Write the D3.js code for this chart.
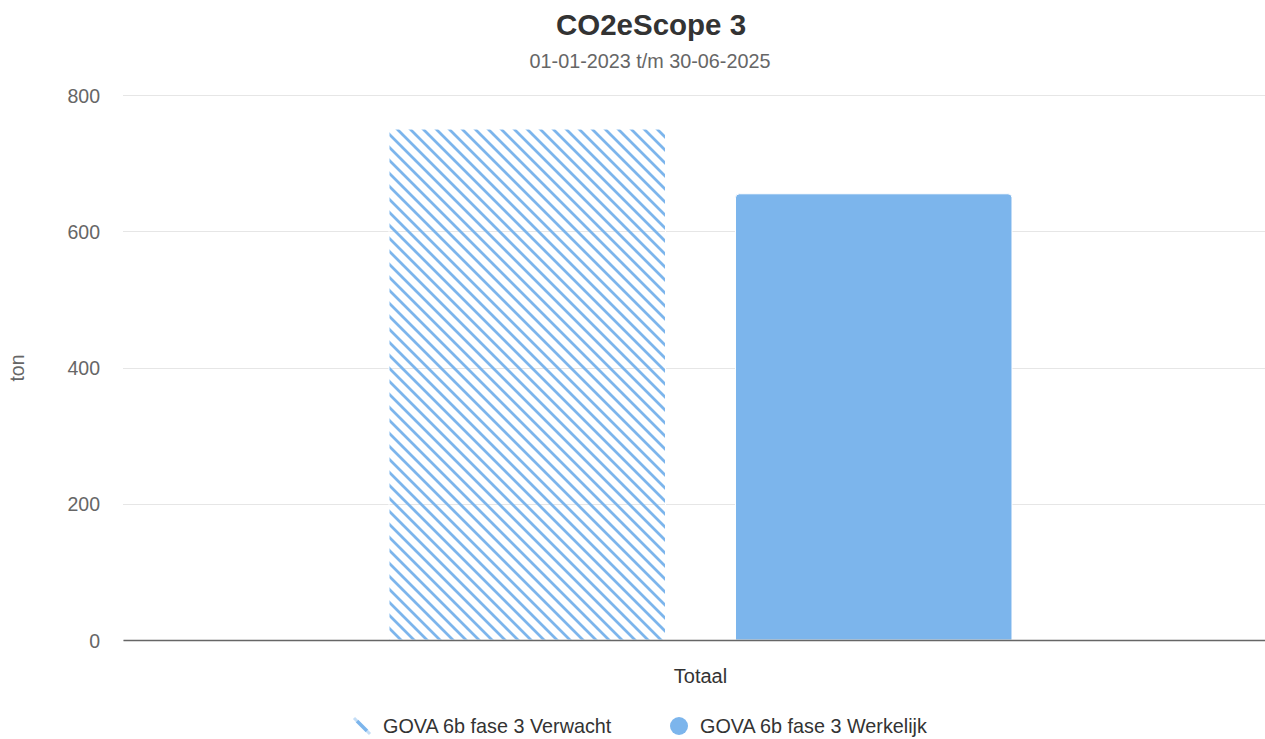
<!DOCTYPE html>
<html>
<head>
<meta charset="utf-8">
<script src="https://cdn.jsdelivr.net/npm/d3@7"></script>
<style>
  body { margin: 0; background: #fff; }
  svg { font-family: "Liberation Sans", Arial, Helvetica, sans-serif; display: block; }
</style>
</head>
<body>
<svg id="chart"></svg>
<script>
// data
var categories = ["Totaal"];
var seriesNames = ["GOVA 6b fase 3 Verwacht", "GOVA 6b fase 3 Werkelijk"];
var seriesValues = [750, 655];
var yTicks = [0, 200, 400, 600, 800];

var titleText = "CO2eScope 3";
var subtitleText = "01-01-2023 t/m 30-06-2025";
var yTitle = "ton";

// sizes
var size = { width: 1265, height: 739 };
var margin = { top: 95, right: -13, bottom: 99, left: 123 };
var width = size.width - margin.left - margin.right;
var height = size.height - margin.top - margin.bottom;

var barColor = "#7cb5ec";

var svg = d3.select("#chart")
  .attr("width", size.width)
  .attr("height", size.height);

// stripe pattern
var defs = svg.append("defs");
var pat = defs.append("pattern")
  .attr("id", "stripes")
  .attr("patternUnits", "userSpaceOnUse")
  .attr("width", 13)
  .attr("height", 13);
pat.append("path")
  .attr("d", "M 0 0 L 13 13 M 11.5 -1.5 L 14.5 1.5 M -1.5 11.5 L 1.5 14.5")
  .attr("stroke", barColor)
  .attr("stroke-width", 2.8)
  .attr("fill", "none");

var fills = ["url(#stripes)", barColor];

var g = svg.append("g")
  .attr("transform", "translate(" + margin.left + "," + margin.top + ")");

var x = d3.scaleBand()
  .domain(categories)
  .range([0, width])
  .paddingInner(0)
  .paddingOuter(0.427);

var xSub = d3.scaleBand()
  .domain(seriesNames)
  .range([0, x.bandwidth()])
  .paddingInner(0.202)
  .paddingOuter(0);

var y = d3.scaleLinear()
  .domain([0, 800])
  .range([height, 0]);

// grid
g.append("g")
  .selectAll("line")
  .data(yTicks)
  .enter()
  .append("line")
  .attr("x1", 0)
  .attr("x2", width)
  .attr("y1", function(d){ return Math.round(y(d)) + 0.5; })
  .attr("y2", function(d){ return Math.round(y(d)) + 0.5; })
  .attr("stroke", "#e6e6e6")
  .attr("stroke-width", 1);

// y labels
var yAxis = d3.axisLeft(y).tickValues(yTicks).tickSize(0).tickPadding(23);
g.append("g")
  .call(yAxis)
  .call(function(sel){
    sel.select(".domain").remove();
    sel.selectAll("text")
      .attr("fill", "#666666")
      .style("font-size", "19.5px")
      .attr("dy", "0.36em");
  });

// bars
function barPath(x0, y0, w, h, r) {
  r = Math.min(r, h);
  return "M" + x0 + "," + (y0 + h) +
    "V" + (y0 + r) +
    "Q" + x0 + "," + y0 + " " + (x0 + r) + "," + y0 +
    "H" + (x0 + w - r) +
    "Q" + (x0 + w) + "," + y0 + " " + (x0 + w) + "," + (y0 + r) +
    "V" + (y0 + h) + "Z";
}

var groups = g.selectAll(".cat")
  .data(categories)
  .enter()
  .append("g")
  .attr("class", "cat")
  .attr("transform", function(d){ return "translate(" + x(d) + ",0)"; });

groups.selectAll("path")
  .data(function(){ return seriesNames.map(function(s, i){ return { name: s, value: seriesValues[i], i: i }; }); })
  .enter()
  .append("path")
  .attr("d", function(d){
    return barPath(xSub(d.name), y(d.value), xSub.bandwidth(), height - y(d.value), d.i === 1 ? 4 : 0);
  })
  .attr("fill", function(d){ return fills[d.i]; })
  .attr("stroke", "#ffffff")
  .attr("stroke-width", 1);

// x axis
var xAxis = d3.axisBottom(x).tickSize(0).tickPadding(29);
g.append("g")
  .attr("transform", "translate(0," + height + ")")
  .call(xAxis)
  .call(function(sel){
    sel.select(".domain").attr("stroke", "#666666").attr("stroke-width", 1.5);
    sel.selectAll("text")
      .attr("fill", "#333333")
      .style("font-size", "20px");
  });

// y title
svg.append("text")
  .attr("transform", "translate(24,368) rotate(-90)")
  .attr("text-anchor", "middle")
  .attr("fill", "#666666")
  .style("font-size", "19.5px")
  .text(yTitle);

// title
svg.append("text")
  .attr("x", 651)
  .attr("y", 35)
  .attr("text-anchor", "middle")
  .attr("fill", "#333333")
  .style("font-size", "29.5px")
  .style("font-weight", "bold")
  .text(titleText);

svg.append("text")
  .attr("x", 650)
  .attr("y", 68)
  .attr("text-anchor", "middle")
  .attr("fill", "#666666")
  .style("font-size", "19.8px")
  .text(subtitleText);

// legend
var legendX = [362, 679];
var legend = svg.append("g");
seriesNames.forEach(function(name, i){
  var lg = legend.append("g").attr("transform", "translate(" + legendX[i] + ",726)");
  if (i === 0) {
    lg.append("path")
      .attr("d", "M -5 -5 L 5 5")
      .attr("stroke", barColor)
      .attr("stroke-width", 3.5)
      .attr("stroke-linecap", "butt");
    lg.append("path")
      .attr("d", "M -8 -8 L -5 -5 M 5 5 L 8 8")
      .attr("stroke", barColor)
      .attr("stroke-width", 3)
      .attr("opacity", 0.45);
  } else {
    lg.append("circle").attr("r", 9).attr("fill", barColor);
  }
  lg.append("text")
    .attr("x", 21)
    .attr("y", 7)
    .attr("fill", "#333333")
    .style("font-size", "19.8px")
    .text(name);
});
</script>
</body>
</html>
